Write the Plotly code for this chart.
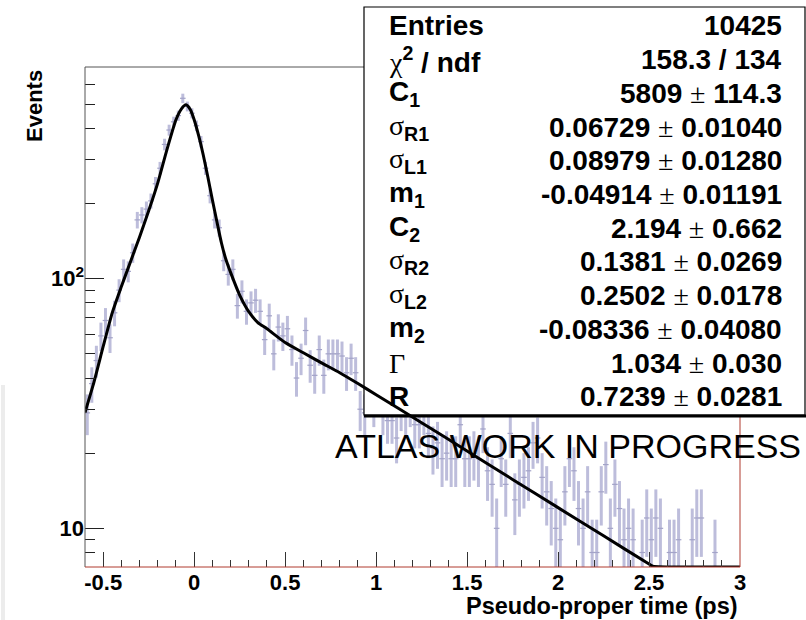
import numpy as np
import plotly.graph_objects as go

# ---- histogram: pseudo-proper time, fixed-width bins ----
BIN_LO = -0.6
BIN_W = 0.025
COUNTS = [
    29, 38, 47, 59, 68, 58, 73, 90, 109, 107,
    127, 172, 180, 190, 205, 240, 277, 345, 394, 425,
    450, 528, 490, 460, 410, 354, 277, 215, 172, 160,
    118, 104, 109, 78, 89, 74, 80, 82, 74, 57,
    71, 50, 64, 59, 63, 52, 40, 48, 62, 45,
    41, 52, 41, 50, 50, 50, 49, 42, 48, 42,
    30, 29, 34, 31, 35, 29, 27, 27, 23, 30,
    28, 31, 26, 26, 29, 24, 21, 22, 19, 20,
    19, 19, 26, 19, 19, 20, 19, 25, 17, 15,
    10, 19, 15, 24, 13, 15, 16, 17, 22, 23,
    16, 14, 12, 10, 9, 14, 19, 17, 12, 10,
    14, 8, 8, 14, 18, 10, 15, 12, 9, 10,
    9, 6, 8, 11, 9, 11, 10, 6, 8, 8,
    9, 6, 5, 9, 11, 11, 6, 5, 8, 5,
    6, 4, 5, 6,
]

# ---- fitted model, sampled along the time axis ----
FIT_T = [-0.6, -0.55, -0.5, -0.45, -0.4, -0.35, -0.3, -0.25, -0.2, -0.15,
         -0.1, -0.07, -0.045, -0.02, 0.0, 0.025, 0.05, 0.075, 0.1, 0.125,
         0.15, 0.175, 0.2, 0.25, 0.3, 0.35, 0.4, 0.5, 0.6, 0.7,
         0.8, 0.9, 1.0, 1.25, 1.5, 1.75, 2.0, 2.25, 2.5, 2.52, 2.75, 3.0]
FIT_Y = [29.1, 38.7, 53.5, 73.1, 93, 117, 147, 187, 242, 328,
         433, 479, 497, 474, 433, 373, 313, 256, 207, 169,
         139, 119, 106, 86, 73.8, 66.7, 63, 55.5, 50.5, 46,
         42, 38, 34.3, 26.5, 20.4, 15.7, 12.1, 9.33, 7.19, 7.05, 5.54, 4.27]

# ---- fit statistics ----
SERIF = "<span style='font-family:Liberation Serif;font-weight:normal'>{}</span>"
PM = " " + SERIF.format("±") + " "
STAT_LABELS = [
    "Entries",
    SERIF.format("χ") + "<sup>2</sup> / ndf",
    "C<sub>1</sub>",
    SERIF.format("σ") + "<sub>R1</sub>",
    SERIF.format("σ") + "<sub>L1</sub>",
    "m<sub>1</sub>",
    "C<sub>2</sub>",
    SERIF.format("σ") + "<sub>R2</sub>",
    SERIF.format("σ") + "<sub>L2</sub>",
    "m<sub>2</sub>",
    SERIF.format("Γ"),
    "R",
]
STAT_VALUES = [
    "10425",
    "158.3 / 134",
    "5809" + PM + "114.3",
    "0.06729" + PM + "0.01040",
    "0.08979" + PM + "0.01280",
    "-0.04914" + PM + "0.01191",
    "2.194" + PM + "0.662",
    "0.1381" + PM + "0.0269",
    "0.2502" + PM + "0.0178",
    "-0.08336" + PM + "0.04080",
    "1.034" + PM + "0.030",
    "0.7239" + PM + "0.0281",
]

X_TICKS = [-0.5, 0, 0.5, 1, 1.5, 2, 2.5, 3]
X_TICK_TEXT = ["-0.5", "0", "0.5", "1", "1.5", "2", "2.5", "3"]
Y_TICKS = [10, 100]
Y_TICK_TEXT = ["10", "10<sup>2</sup>"]

X_RANGE = [-0.6, 3.0]
Y_LOG_RANGE = [0.845, 2.848]

# ---- canvas geometry (pixels) ----
W, H = 806, 620
L, R, T, B = 85, 740, 67, 567


def px(x):
    return (x - L) / (R - L)


def py(y):
    return (B - y) / (B - T)


def paper_to_x(p):
    return X_RANGE[0] + p * (X_RANGE[1] - X_RANGE[0])


def paper_to_y(p):
    return 10 ** (Y_LOG_RANGE[0] + p * (Y_LOG_RANGE[1] - Y_LOG_RANGE[0]))


counts = np.array(COUNTS, dtype=float)
centers = BIN_LO + BIN_W * (np.arange(len(counts)) + 0.5)
errors = np.sqrt(counts)
y_floor = 10 ** Y_LOG_RANGE[0]
shown = counts >= y_floor

fit_y = np.maximum(np.array(FIT_Y), y_floor)

# stats box extent (paper units)
BOX_X0, BOX_X1 = px(364), px(805)
BOX_Y0, BOX_Y1 = py(415), py(7)

fig = go.Figure()

fig.add_trace(go.Scatter(
    x=centers[shown], y=counts[shown], mode="markers",
    marker=dict(symbol="line-ew", size=4, color="#a3a3c8",
                line=dict(width=1.2, color="#a3a3c8")),
    error_y=dict(type="data", array=errors[shown], color="#bdbddb",
                 thickness=3, width=0),
    hoverinfo="skip", showlegend=False,
))

# opaque stats-box background over the data, beneath the fit line
bx0, bx1 = paper_to_x(BOX_X0), paper_to_x(1.0)
by0, by1 = paper_to_y(BOX_Y0), paper_to_y(1.0)
fig.add_trace(go.Scatter(
    x=[bx0, bx1, bx1, bx0, bx0], y=[by0, by0, by1, by1, by0],
    mode="lines", fill="toself", fillcolor="white",
    line=dict(width=0, color="white"), hoverinfo="skip", showlegend=False,
))

fig.add_trace(go.Scatter(
    x=FIT_T, y=fit_y, mode="lines",
    line=dict(color="black", width=3, shape="spline", smoothing=0.6),
    hoverinfo="skip", showlegend=False,
))

FONT = "Liberation Sans"
frame_grey = "#555555"
frame_red = "#b03a2e"

shapes = [
    dict(type="line", xref="paper", yref="paper", x0=0, x1=0, y0=0, y1=1,
         line=dict(color=frame_grey, width=1)),
    dict(type="line", xref="paper", yref="paper", x0=0, x1=BOX_X0, y0=1, y1=1,
         line=dict(color=frame_grey, width=1)),
    dict(type="line", xref="paper", yref="paper", x0=0, x1=1, y0=0, y1=0,
         line=dict(color=frame_red, width=1)),
    dict(type="line", xref="paper", yref="paper", x0=1, x1=1, y0=0, y1=BOX_Y0,
         line=dict(color=frame_red, width=1)),
    dict(type="rect", xref="paper", yref="paper", x0=BOX_X0, x1=BOX_X1,
         y0=BOX_Y0, y1=BOX_Y1, line=dict(color="black", width=1.2),
         fillcolor="rgba(0,0,0,0)", layer="above"),
    dict(type="line", xref="paper", yref="paper", x0=BOX_X0, x1=BOX_X1 + 0.01,
         y0=BOX_Y0 - 0.002, y1=BOX_Y0 - 0.002,
         line=dict(color="black", width=3), layer="above"),
    # faint vertical stripe along the left border of the canvas
    dict(type="line", xref="paper", yref="paper", x0=px(3), x1=px(3),
         y0=py(385), y1=py(620), line=dict(color="#ececec", width=4)),
]

annotations = []
ROW0, ROW_STEP = 26, 33.7
for k, (lab, val) in enumerate(zip(STAT_LABELS, STAT_VALUES)):
    yc = py(ROW0 + ROW_STEP * k)
    annotations.append(dict(
        xref="paper", yref="paper", x=px(387), y=yc, xanchor="left",
        yanchor="middle", text=lab, showarrow=False,
        font=dict(family=FONT, size=28, color="black", weight="bold")))
    annotations.append(dict(
        xref="paper", yref="paper", x=px(784), y=yc, xanchor="right",
        yanchor="middle", text=val, showarrow=False,
        font=dict(family=FONT, size=28, color="black", weight="bold")))

annotations.append(dict(
    xref="paper", yref="paper", x=px(333), y=py(446), xanchor="left",
    yanchor="middle", text="ATLAS WORK IN PROGRESS", showarrow=False,
    font=dict(family=FONT, size=34, color="black")))

annotations.append(dict(
    xref="paper", yref="paper", x=px(740), y=py(606), xanchor="right",
    yanchor="middle", text="Pseudo-proper time (ps)", showarrow=False,
    font=dict(family=FONT, size=23.5, color="black", weight="bold")))

annotations.append(dict(
    xref="paper", yref="paper", x=px(34), y=py(68), xanchor="center",
    yanchor="top", text="Events", textangle=-90, showarrow=False,
    font=dict(family=FONT, size=22, color="black", weight="bold")))

x_minor = [round(-0.6 + 0.1 * k, 1) for k in range(37)]
x_minor = [v for v in x_minor if abs(v * 2 - round(v * 2)) > 1e-6]
y_minor = [m * d for d in (1, 10, 100) for m in range(2, 10)]
y_minor = [v for v in y_minor if v not in (10, 100)]

fig.update_layout(
    width=W, height=H,
    margin=dict(l=L, r=W - R, t=T, b=H - B, pad=0),
    paper_bgcolor="white", plot_bgcolor="white",
    shapes=shapes, annotations=annotations, showlegend=False,
    xaxis=dict(
        range=X_RANGE, showgrid=False, zeroline=False, showline=False,
        tickmode="array", tickvals=X_TICKS, ticktext=X_TICK_TEXT,
        ticks="inside", ticklen=15, tickwidth=1, tickcolor="#333333",
        tickfont=dict(family=FONT, size=22, color="black", weight="bold"),
        minor=dict(tickmode="array", tickvals=x_minor, ticks="inside",
                   ticklen=7, tickwidth=1, tickcolor="#333333"),
    ),
    yaxis=dict(
        type="log", range=Y_LOG_RANGE, showgrid=False, zeroline=False,
        showline=False, tickmode="array", tickvals=Y_TICKS,
        ticktext=Y_TICK_TEXT, ticks="inside", ticklen=19, tickwidth=1,
        tickcolor="#222222",
        tickfont=dict(family=FONT, size=22, color="black", weight="bold"),
        minor=dict(tickmode="array", tickvals=y_minor, ticks="inside",
                   ticklen=10, tickwidth=1, tickcolor="#222222"),
    ),
)

fig.write_html("out.html")
